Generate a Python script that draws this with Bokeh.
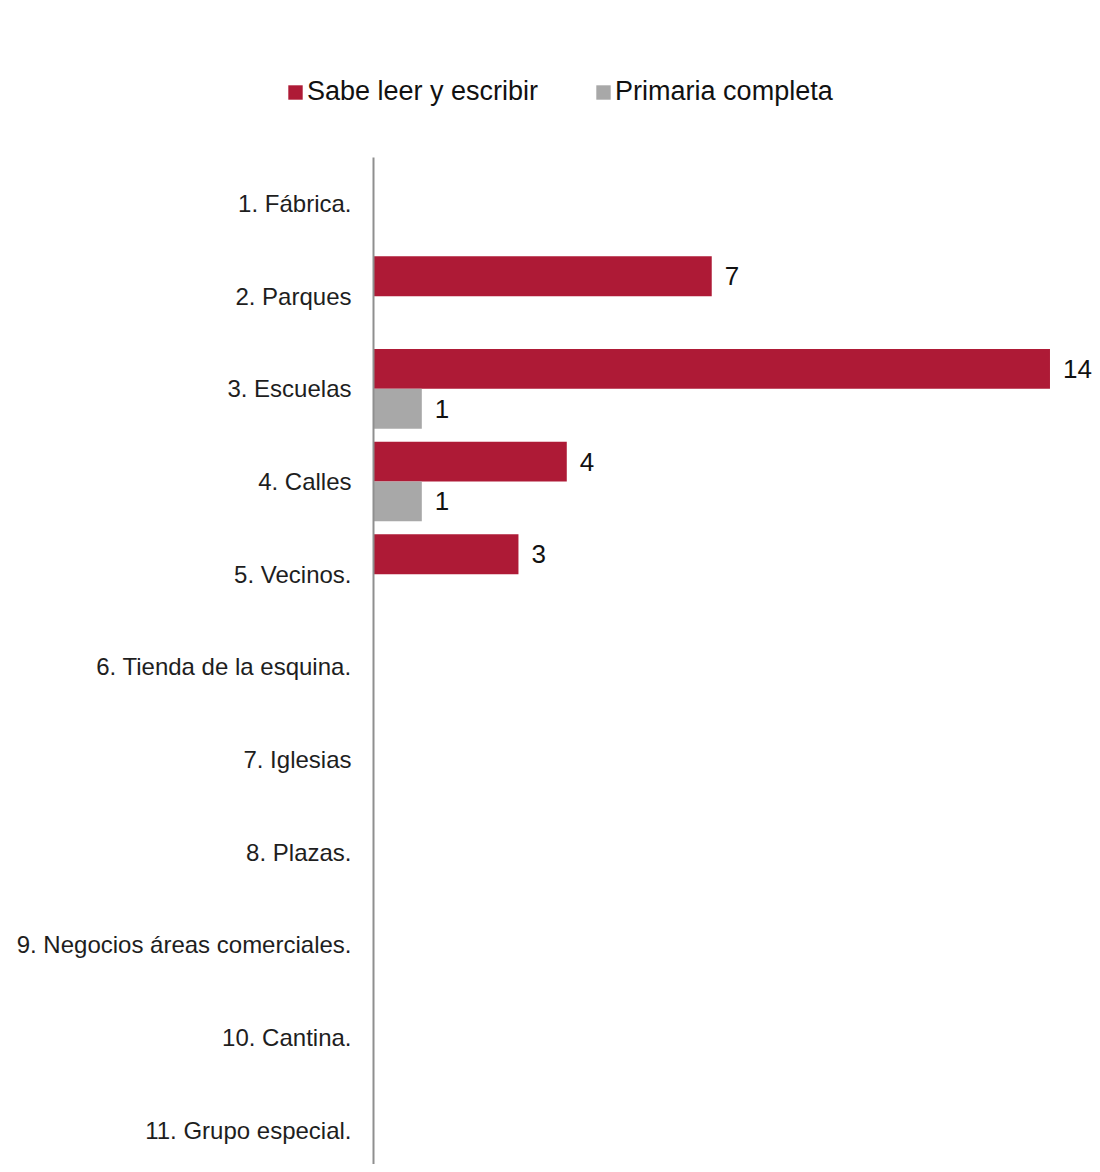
from bokeh.plotting import figure
from bokeh.layouts import column
from bokeh.models import Range1d, FixedTicker, Legend, LegendItem, ColumnDataSource, LabelSet
from bokeh.transform import dodge
from bokeh.core.properties import value
from bokeh.embed import file_html
from bokeh.resources import INLINE

# ---- data ----
categories = [
    "1. Fábrica.",
    "2. Parques",
    "3. Escuelas",
    "4. Calles",
    "5. Vecinos.",
    "6. Tienda de la esquina.",
    "7. Iglesias",
    "8. Plazas.",
    "9. Negocios áreas comerciales.",
    "10. Cantina.",
    "11. Grupo especial.",
]
sabe_leer = [0, 7, 14, 4, 3, 0, 0, 0, 0, 0, 0]
primaria = [0, 0, 1, 1, 0, 0, 0, 0, 0, 0, 0]
series_names = ["Sabe leer y escribir", "Primaria completa"]

# ---- styles ----
RED = "#AE1A36"
GRAY = "#A8A8A8"
FONT = "Liberation Sans"
BAR_H = 0.43
OFF = BAR_H / 2
W = 1092

pos = list(range(1, len(categories) + 1))
src = ColumnDataSource(dict(pos=pos, sabe=sabe_leer, prim=primaria))

# ---- main chart ----
p = figure(
    width=W, height=1007,
    output_backend="svg", toolbar_location=None,
    x_range=Range1d(0, 14.88), y_range=Range1d(11.37, 0.504),
    x_axis_location=None,
    min_border_left=373, min_border_top=0, min_border_bottom=0, min_border_right=0,
)
p.outline_line_color = None
p.xgrid.visible = False
p.ygrid.visible = False
p.background_fill_color = "white"
p.border_fill_color = "white"

p.hbar(y=dodge("pos", -OFF, range=p.y_range), right="sabe", left=0, height=BAR_H,
       source=src, fill_color=RED, line_color=None)
p.hbar(y=dodge("pos", OFF, range=p.y_range), right="prim", left=0, height=BAR_H,
       source=src, fill_color=GRAY, line_color=None)

# value labels (non-zero only)
for vals, sign in ((sabe_leer, -1), (primaria, 1)):
    xs, ys, ts = [], [], []
    for pp, v in zip(pos, vals):
        if v:
            xs.append(v)
            ys.append(pp)
            ts.append(str(v))
    ls = ColumnDataSource(dict(x=xs, y=ys, t=ts))
    p.add_layout(LabelSet(x="x", y=dodge("y", sign * OFF, range=p.y_range), text="t", source=ls,
                          x_offset=13, text_baseline="middle", text_align="left",
                          text_font=value(FONT), text_font_size="26px", text_color="#111111"))

# y axis
ax = p.yaxis[0]
ax.ticker = FixedTicker(ticks=pos)
ax.major_label_overrides = {pp: c for pp, c in zip(pos, categories)}
ax.major_tick_line_color = None
ax.minor_tick_line_color = None
ax.major_label_standoff = 16
ax.axis_line_color = "#8F8F8F"
ax.axis_line_width = 2
ax.major_label_text_font = FONT
ax.major_label_text_font_size = "24px"
ax.major_label_text_color = "#1E1E1E"

# ---- legend strip on top (same series, range shows no bars) ----
lg = figure(
    width=W, height=157, output_backend="svg", toolbar_location=None,
    x_range=Range1d(0, 15), y_range=Range1d(100, 101),
    x_axis_location=None, y_axis_location=None,
    min_border_left=0, min_border_right=0, min_border_top=0, min_border_bottom=0,
)
lg.frame_align = False
lg.outline_line_color = None
lg.xgrid.visible = False
lg.ygrid.visible = False
lg.background_fill_color = "white"
lg.border_fill_color = "white"
k1 = lg.hbar(y="pos", right="sabe", left=0, height=BAR_H, source=src,
             fill_color=RED, line_color=None)
k2 = lg.hbar(y="pos", right="prim", left=0, height=BAR_H, source=src,
             fill_color=GRAY, line_color=None)
legend = Legend(
    items=[LegendItem(label=series_names[0], renderers=[k1]),
           LegendItem(label=series_names[1], renderers=[k2])],
    location=(286, 50), orientation="horizontal",
    glyph_width=18, glyph_height=18, label_standoff=3, spacing=56,
    padding=0, margin=0, border_line_color=None, background_fill_alpha=0,
    label_text_font=FONT, label_text_font_size="27px", label_text_color="#111111",
)
lg.add_layout(legend)

layout = column(lg, p, spacing=0)
open("out.html", "w").write(file_html(layout, INLINE))
